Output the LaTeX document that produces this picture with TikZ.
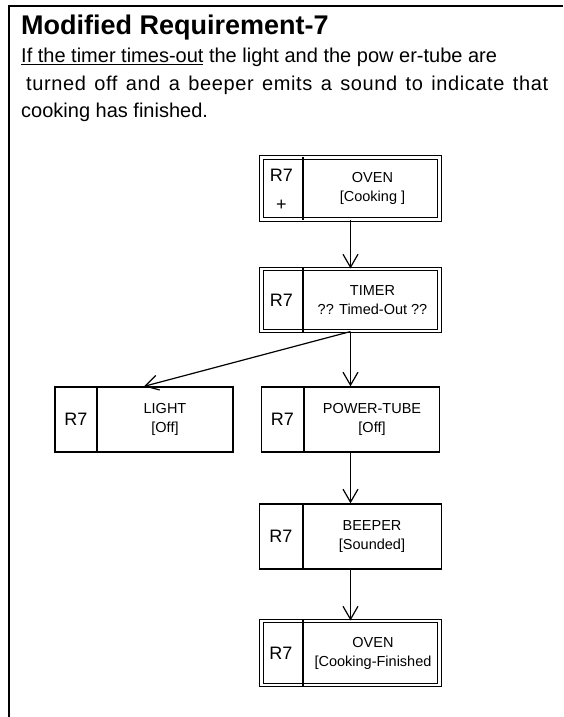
\documentclass[tikz,border=0pt]{standalone}
\usepackage{fontspec}
\setmainfont{Liberation Sans}
\usetikzlibrary{arrows.meta}

\begin{document}
\begin{tikzpicture}[x=1pt,y=-1pt,
    statebox/.style={draw,line width=1.3pt,minimum width=182pt,minimum height=65pt,inner sep=0pt},
    dblbox/.style={statebox,line width=1.1pt,double,double distance=2.2pt,minimum width=178pt,minimum height=62pt},
    tag/.style={font=\fontsize{18}{20}\selectfont},
    lbl/.style={align=center,font=\fontsize{14.5}{19}\selectfont},
    body/.style={anchor=base west,inner sep=0pt,font=\fontsize{20}{24}\selectfont},
    flow/.style={-{Straight Barb[length=13pt,width=15pt]},line width=1.2pt}]
    \useasboundingbox (0,0) rectangle (563,717);
    \draw[line width=1.6pt] (9,717) -- (9,6) -- (563,6);

    \node[anchor=base west,inner sep=0pt,font=\bfseries\fontsize{27}{30}\selectfont] (title) at (21,35) {Modified Requirement-7};
    \node[body] (line1) at (21,63) {\underline{If the timer times-out} the light and the pow er-tube are};
    \node[body] (line2) at (26,90) {\addfontfeature{LetterSpace=3}\makebox[522pt][s]{turned off and a beeper emits a sound to indicate that}};
    \node[body] (line3) at (21,117) {cooking has finished.};

    \node[dblbox] (oven) at (350.5,188.5) {};
    \draw[line width=1.1pt] ([xshift=-47.5pt]oven.north) -- ([xshift=-47.5pt]oven.south);
    \node[tag] (ovenr) at (281.5,175) {R7};
    \node[tag] (ovenp) at (281.5,205) {+};
    \node[lbl] (ovenl) at (372.5,188.5) {OVEN\\{}[Cooking ]};

    \node[dblbox] (timer) at (350.5,300) {};
    \draw[line width=1.1pt] ([xshift=-47.5pt]timer.north) -- ([xshift=-47.5pt]timer.south);
    \node[tag] (timerr) at (281.5,300) {R7};
    \node[lbl] (timerl) at (372.5,300) {TIMER\\?? Timed-Out ??};

    \node[statebox,minimum width=178pt] (light) at (144,419.5) {};
    \draw[line width=1.3pt] ([xshift=-47pt]light.north) -- ([xshift=-47pt]light.south);
    \node[tag] (lightr) at (76,419.5) {R7};
    \node[lbl] (lightl) at (165,419.5) {LIGHT\\{}[Off]};

    \node[statebox,minimum width=178pt] (tube) at (350.5,419.5) {};
    \draw[line width=1.3pt] ([xshift=-46.5pt]tube.north) -- ([xshift=-46.5pt]tube.south);
    \node[tag] (tuber) at (282.5,419.5) {R7};
    \node[lbl] (tubel) at (372,419.5) {POWER-TUBE\\{}[Off]};

    \node[statebox] (beeper) at (350.5,536.5) {};
    \draw[line width=1.3pt] ([xshift=-47.5pt]beeper.north) -- ([xshift=-47.5pt]beeper.south);
    \node[tag] (beeperr) at (281,536.5) {R7};
    \node[lbl] (beeperl) at (372,536.5) {BEEPER\\{}[Sounded]};

    \node[dblbox,minimum height=64pt] (done) at (350.5,653) {};
    \draw[line width=1.1pt] ([xshift=-47.5pt]done.north) -- ([xshift=-47.5pt]done.south);
    \node[tag] (doner) at (281,653) {R7};
    \node[lbl] (donel) at (373,653) {OVEN\\{}[Cooking-Finished};

    \draw[flow] (oven) -- (timer);
    \draw[flow] (timer.south) -- (light.north);
    \draw[flow] (timer) -- (tube);
    \draw[flow] (tube) -- (beeper);
    \draw[flow] (beeper) -- (done);
\end{tikzpicture}
\end{document}
